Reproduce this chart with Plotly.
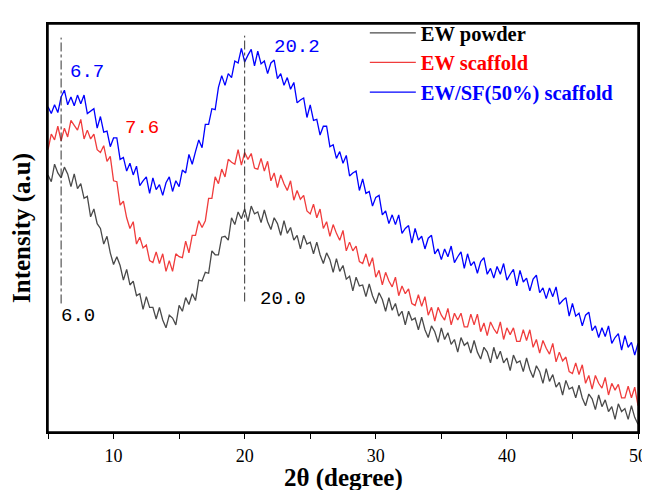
import plotly.graph_objects as go

# 2-theta sampling (degrees)
two_theta_start = 5.0
two_theta_step = 0.25

series_names = ["EW powder", "EW scaffold", "EW/SF(50%) scaffold"]
series_colors = ["#4a4a4a", "#f03c3c", "#0000ff"]
legend_text_colors = ["#000000", "#ff0000", "#0000ff"]

ew_powder = [
    264, 257, 275, 266, 261, 272, 265, 252, 265, 250, 255, 240, 242, 221, 229, 214,
    209, 193, 201, 184, 172, 180, 171, 156, 167, 151, 155, 140, 142, 126, 139, 128,
    128, 116, 128, 115, 107, 120, 117, 110, 130, 124, 138, 131, 142, 135, 156, 155,
    164, 163, 186, 182, 182, 200, 201, 197, 220, 213, 226, 219, 229, 216, 232, 224,
    226, 215, 228, 216, 208, 220, 214, 202, 217, 204, 210, 197, 202, 188, 202, 193,
    195, 183, 195, 182, 173, 184, 177, 164, 178, 165, 171, 157, 160, 145, 159, 150,
    151, 139, 152, 140, 132, 143, 136, 124, 138, 125, 132, 119, 124, 110, 124, 115,
    117, 105, 118, 105, 97, 109, 103, 92, 107, 95, 102, 90, 95, 82, 97, 89,
    92, 81, 94, 82, 75, 87, 82, 71, 87, 75, 83, 71, 76, 63, 79, 71,
    73, 62, 76, 64, 56, 68, 62, 50, 65, 52, 59, 46, 51, 38, 53, 44,
    46, 35, 48, 35, 27, 39, 34, 23, 38, 26, 33, 21, 26, 13, 29, 21,
    24, 13, 27, 15, 8,
]

ew_scaffold = [
    290, 306, 300, 314, 299, 312, 303, 320, 315, 310, 321, 301, 310, 301, 306, 290,
    287, 294, 278, 283, 258, 257, 233, 237, 220, 209, 216, 193, 200, 189, 192, 176,
    174, 185, 173, 183, 165, 176, 165, 183, 180, 179, 196, 184, 202, 202, 217, 210,
    217, 240, 240, 262, 255, 270, 262, 280, 277, 275, 290, 274, 287, 280, 286, 271,
    270, 281, 268, 278, 258, 266, 251, 264, 255, 248, 258, 238, 248, 239, 243, 227,
    224, 234, 220, 229, 209, 216, 201, 213, 204, 197, 207, 186, 195, 186, 191, 175,
    173, 183, 170, 179, 159, 166, 151, 164, 155, 149, 159, 140, 150, 142, 147, 132,
    130, 141, 129, 139, 120, 128, 114, 128, 120, 115, 127, 110, 122, 115, 122, 108,
    108, 121, 110, 121, 103, 112, 99, 113, 106, 101, 113, 95, 107, 100, 107, 93,
    93, 105, 94, 105, 87, 95, 81, 94, 86, 80, 91, 72, 82, 73, 77, 62,
    60, 71, 59, 69, 50, 58, 44, 58, 50, 45, 56, 38, 50, 43, 49, 35,
    35, 47, 35, 46, 27,
]

ew_sf_scaffold = [
    334, 327, 336, 328, 344, 351, 336, 344, 335, 346, 337, 346, 327, 330, 332, 312,
    324, 308, 309, 293, 302, 302, 280, 282, 268, 276, 264, 273, 253, 258, 262, 245,
    261, 249, 254, 243, 256, 262, 247, 258, 252, 269, 266, 285, 275, 288, 300, 292,
    316, 316, 332, 331, 354, 366, 356, 368, 364, 381, 379, 394, 380, 387, 393, 376,
    391, 378, 381, 368, 379, 382, 363, 368, 356, 364, 352, 359, 338, 341, 343, 323,
    336, 320, 321, 305, 314, 314, 293, 295, 281, 288, 276, 284, 263, 266, 268, 248,
    260, 245, 247, 232, 241, 243, 223, 227, 214, 223, 213, 223, 204, 209, 212, 194,
    209, 197, 201, 188, 199, 202, 183, 188, 177, 188, 180, 191, 174, 180, 185, 168,
    183, 171, 175, 163, 175, 179, 162, 168, 158, 170, 162, 173, 156, 162, 167, 150,
    166, 154, 158, 145, 157, 161, 143, 148, 137, 148, 139, 149, 131, 135, 138, 119,
    132, 119, 122, 109, 120, 123, 104, 109, 97, 107, 98, 109, 91, 97, 101, 84,
    99, 87, 92, 79, 91,
]

# peak markers: (position, line top, line bottom)
marker_lines = [(6.0, 405, 132), (20.0, 407, 134)]

# peak labels: text, x, y, colour
peak_labels = [
    ("6.7", 6.55, 370, "#0000ff"),
    ("7.6", 10.75, 312, "#ff0000"),
    ("20.2", 22.1, 395, "#0000ff"),
    ("6.0", 5.85, 119, "#000000"),
    ("20.0", 21.05, 137, "#000000"),
]

x_tick_vals = [10, 20, 30, 40, 50]
x_minor_vals = [5, 15, 25, 35, 45]
x_title = "<b>2θ (degree)</b>"
y_title = "<b>Intensity (a.u)</b>"

series_values = [ew_powder, ew_scaffold, ew_sf_scaffold]

fig = go.Figure()
for name, vals, col, tcol in zip(series_names, series_values, series_colors, legend_text_colors):
    fig.add_trace(go.Scatter(
        x0=two_theta_start, dx=two_theta_step, y=vals, mode="lines",
        line=dict(color=col, width=1.3),
        name=f"<span style='color:{tcol}'>{name}</span>",
    ))

for xp, ytop, ybot in marker_lines:
    fig.add_shape(type="line", x0=xp, x1=xp, y0=ybot, y1=ytop, xref="x", yref="y",
                  line=dict(color="#333333", width=1, dash="dashdot"))

for txt, xp, yp, col in peak_labels:
    fig.add_annotation(x=xp, y=yp, text=txt, showarrow=False, xanchor="left", yanchor="middle",
                       font=dict(family="Liberation Mono", size=19, color=col))

# x-axis title placed just below the tick labels
fig.add_annotation(x=0.5, y=0, xref="paper", yref="paper", text=x_title, showarrow=False,
                   xanchor="center", yanchor="middle", yshift=-46,
                   font=dict(family="Liberation Serif", size=25, color="black"))

# plot frame
fig.add_shape(type="rect", xref="paper", yref="paper", x0=0, x1=1, y0=0, y1=1,
              line=dict(color="black", width=1.5), fillcolor="rgba(0,0,0,0)", layer="above")

# the page body adds an 8 px offset, so the figure is 8 px smaller than the window
fig.update_layout(
    width=642, height=482,
    margin=dict(l=40, r=12, t=5, b=58),
    paper_bgcolor="white", plot_bgcolor="white",
    font=dict(family="Liberation Serif", size=18, color="black"),
    showlegend=True,
    legend=dict(x=0.537, y=1.027, xanchor="left", yanchor="top",
                bgcolor="rgba(0,0,0,0)", borderwidth=0,
                font=dict(family="Liberation Serif", size=20.5, weight="bold"),
                tracegroupgap=0, itemwidth=46),
)
fig.update_xaxes(
    range=[5, 50], tickvals=x_tick_vals, ticks="outside", ticklen=5, tickwidth=1.2,
    tickcolor="black", showline=True, linecolor="black", linewidth=1.5, mirror=True,
    showgrid=False, zeroline=False, automargin=False, ticklabelstandoff=2,
    tickfont=dict(family="Liberation Serif", size=18),
    minor=dict(tickvals=x_minor_vals, ticks="outside", ticklen=5, tickwidth=1.2, tickcolor="black"),
)
fig.update_yaxes(
    range=[0, 419], showticklabels=False, ticks="", showline=True, linecolor="black",
    linewidth=1.5, mirror=True, showgrid=False, zeroline=False, automargin=False,
    title=dict(text=y_title, font=dict(family="Liberation Serif", size=25), standoff=10),
)

fig.write_html("out.html")
